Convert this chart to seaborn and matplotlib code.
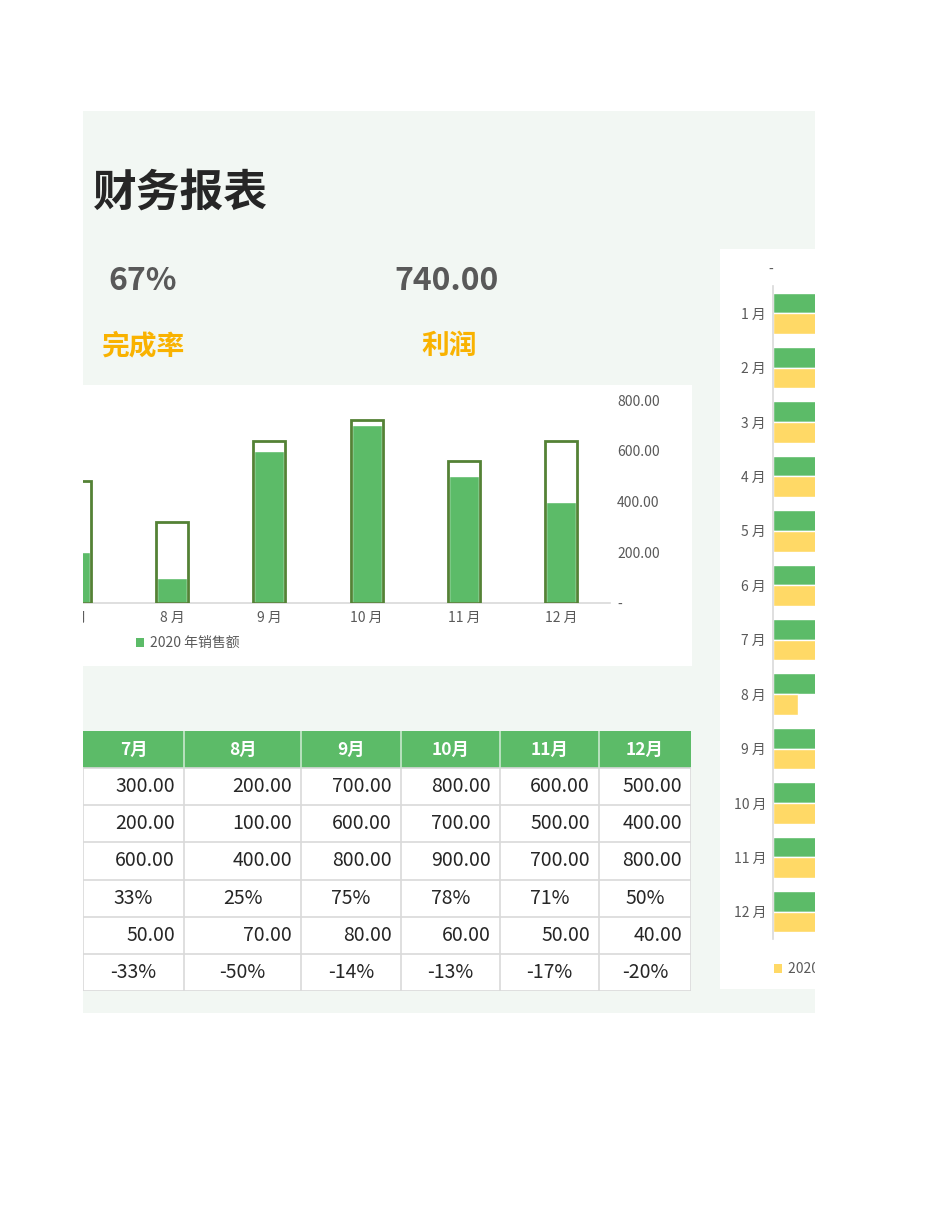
import numpy as np
import pandas as pd
import matplotlib
matplotlib.use("Agg")
import matplotlib.pyplot as plt
from matplotlib.patches import Rectangle, Patch
from matplotlib.ticker import FuncFormatter
import seaborn as sns

# ---------------- data ----------------
kpi_rate = "67%"
kpi_profit = 740.00
kpi_labels = ["完成率", "利润"]

table_months = ["7月", "8月", "9月", "10月", "11月", "12月"]
chart_months = ["7 月", "8 月", "9 月", "10 月", "11 月", "12 月"]
sales_2019 = [300, 200, 700, 800, 600, 500]
sales_2020 = [200, 100, 600, 700, 500, 400]
target = [600, 400, 800, 900, 700, 800]
completion = ["33%", "25%", "75%", "78%", "71%", "50%"]
profit = [50, 70, 80, 60, 50, 40]
growth = ["-33%", "-50%", "-14%", "-13%", "-17%", "-20%"]

hbar_months = ["1 月", "2 月", "3 月", "4 月", "5 月", "6 月",
               "7 月", "8 月", "9 月", "10 月", "11 月", "12 月"]
hbar_green = [400, 300, 500, 600, 400, 500, 300, 200, 700, 800, 600, 500]
hbar_yellow = [300, 250, 400, 500, 350, 450, 200, 100, 600, 700, 500, 400]
series_names = ["2019 年销售额", "2020 年销售额"]

# ---------------- style ----------------
sns.set_theme(style="white")
plt.rcParams["font.family"] = ["Noto Sans CJK SC", "DejaVu Sans"]
plt.rcParams["axes.unicode_minus"] = False

GREEN = "#5CBB68"
DKGREEN = "#548235"
YELLOW = "#FFD966"
ORANGE = "#F9B200"
GRAY = "#595959"
GRID = "#D9D9D9"
PANEL = "#F2F7F3"

W, H = 950, 1230
fig = plt.figure(figsize=(W / 100, H / 100), dpi=100, facecolor="white")


def fbox(x0, y0, x1, y1):
    return [x0 / W, 1 - y1 / H, (x1 - x0) / W, (y1 - y0) / H]


def frect(x0, y0, x1, y1, color, z):
    b = fbox(x0, y0, x1, y1)
    fig.add_artist(Rectangle((b[0], b[1]), b[2], b[3], transform=fig.transFigure,
                             facecolor=color, edgecolor="none", zorder=z))


# backgrounds
frect(83, 111, 815, 1013, PANEL, -10)
frect(83, 385, 692, 666, "white", -9)
frect(720, 249, 815, 989, "white", -9)

# ---------------- header texts ----------------
fig.text(93 / W, 1 - 193 / H, "财务报表", fontsize=31.5, fontweight="bold",
         color="#262626", ha="left", va="center")
fig.text(143 / W, 1 - 281 / H, kpi_rate, fontsize=23, fontweight="bold",
         color=GRAY, ha="center", va="center")
fig.text(446 / W, 1 - 281 / H, f"{kpi_profit:.2f}", fontsize=23, fontweight="bold",
         color=GRAY, ha="center", va="center")
fig.text(143 / W, 1 - 346 / H, kpi_labels[0], fontsize=20, fontweight="bold",
         color=ORANGE, ha="center", va="center")
fig.text(449 / W, 1 - 346 / H, kpi_labels[1], fontsize=20, fontweight="bold",
         color=ORANGE, ha="center", va="center")

# ---------------- column chart ----------------
df_col = pd.DataFrame({"月份": chart_months, "销售额": sales_2020, "目标": target})
ax = fig.add_axes(fbox(26, 400, 610, 603))
ax.patch.set_visible(False)
sns.barplot(data=df_col, x="月份", y="销售额", color=GREEN, saturation=1,
            width=0.31, errorbar=None, ax=ax)

ax2 = ax.twinx()
sns.barplot(data=df_col, x="月份", y="目标", color=DKGREEN, fill=False,
            linewidth=2.0, width=0.33, errorbar=None, ax=ax2)
ax2.set_ylim(0, 1000)
ax2.set_xlim(-0.5, len(chart_months) - 0.5)
ax2.set_yticks([])
ax2.set_ylabel("")
ax2.set_xlabel("")
for s in ax2.spines.values():
    s.set_visible(False)

ax.set_ylim(0, 800)
ax.set_xlim(-0.5, len(chart_months) - 0.5)
ax.yaxis.tick_right()
ax.set_yticks([0, 200, 400, 600, 800])
ax.yaxis.set_major_formatter(FuncFormatter(lambda v, p: "-" if v == 0 else f"{v:.2f}"))
ax.tick_params(axis="y", which="both", left=False, right=False, labelleft=False,
               labelright=True, length=0, pad=5, labelsize=10, labelcolor=GRAY)
ax.tick_params(axis="x", length=0, pad=6, labelsize=10, labelcolor=GRAY)
ax.set_xlabel("")
ax.set_ylabel("")
for s in ["top", "left", "right"]:
    ax.spines[s].set_visible(False)
ax.spines["bottom"].set_color(GRID)
ax.spines["bottom"].set_linewidth(1.2)

fig.legend([Patch(facecolor=GREEN, edgecolor="none")], ["2020 年销售额"],
           loc="center left", bbox_to_anchor=(136 / W, 1 - 643 / H),
           bbox_transform=fig.transFigure, frameon=False, fontsize=10,
           handlelength=0.6, handleheight=0.6, handletextpad=0.4,
           borderpad=0, borderaxespad=0, labelcolor=GRAY)

# ---------------- table ----------------
tb = fig.add_axes(fbox(83, 731, 691, 991))
tb.set_xlim(83, 691)
tb.set_ylim(991, 731)
tb.axis("off")
col_edges = [83, 184, 301, 401, 500, 599, 691]
row_edges = [731, 768, 805, 842, 880, 917, 954, 991]
rows = [
    [f"{v:.2f}" for v in sales_2019],
    [f"{v:.2f}" for v in sales_2020],
    [f"{v:.2f}" for v in target],
    completion,
    [f"{v:.2f}" for v in profit],
    growth,
]
row_align = ["right", "right", "right", "center", "right", "center"]

tb.add_patch(Rectangle((col_edges[0], row_edges[0]), col_edges[-1] - col_edges[0],
                       row_edges[1] - row_edges[0], facecolor=GREEN, edgecolor="none"))
tb.add_patch(Rectangle((col_edges[0], row_edges[1]), col_edges[-1] - col_edges[0],
                       row_edges[-1] - row_edges[1], facecolor="white", edgecolor="none"))
for j, m in enumerate(table_months):
    cx = (col_edges[j] + col_edges[j + 1]) / 2
    tb.text(cx, (row_edges[0] + row_edges[1]) / 2, m, ha="center", va="center",
            color="white", fontsize=12.5, fontweight="bold")
for i, r in enumerate(rows):
    cy = (row_edges[i + 1] + row_edges[i + 2]) / 2
    for j, val in enumerate(r):
        if row_align[i] == "right":
            x = col_edges[j + 1] - 9
        else:
            x = (col_edges[j] + col_edges[j + 1]) / 2
        tb.text(x, cy, val, ha=row_align[i], va="center", color="#262626", fontsize=14)
# grid lines
for y in row_edges[1:]:
    tb.plot([col_edges[0], col_edges[-1]], [y, y], color=GRID, lw=1.2)
for x in col_edges:
    tb.plot([x, x], [row_edges[1], row_edges[-1]], color=GRID, lw=1.2)
for x in col_edges[1:-1]:
    tb.plot([x, x], [row_edges[0], row_edges[1]], color="#C9E8CD", lw=1.2)

# ---------------- horizontal bar chart ----------------
df_h = pd.DataFrame({
    "月份": hbar_months * 2,
    "系列": [series_names[0]] * len(hbar_months) + [series_names[1]] * len(hbar_months),
    "值": hbar_green + hbar_yellow,
})
axh = fig.add_axes(fbox(773, 286, 950, 939))
axh.patch.set_visible(False)
sns.barplot(data=df_h, y="月份", x="值", hue="系列", palette=[GREEN, YELLOW],
            orient="h", width=0.76, saturation=1, errorbar=None, legend=False, ax=axh)
axh.set_xlim(0, (950 - 773) * 4)
axh.set_ylim(len(hbar_months) - 0.5, -0.5)
axh.xaxis.tick_top()
axh.set_xticks([0])
axh.set_xticklabels(["- "])
axh.tick_params(axis="x", length=0, pad=7, labelsize=10, labelcolor=GRAY)
axh.tick_params(axis="y", length=0, pad=5, labelsize=10, labelcolor=GRAY)
axh.set_xlabel("")
axh.set_ylabel("")
for s in ["top", "right", "bottom"]:
    axh.spines[s].set_visible(False)
axh.spines["left"].set_color(GRID)
axh.spines["left"].set_linewidth(1.2)

fig.legend([Patch(facecolor=YELLOW, edgecolor="none")],
           [series_names[1]],
           loc="center left", bbox_to_anchor=(774 / W, 1 - 969 / H),
           bbox_transform=fig.transFigure, frameon=False, fontsize=10,
           handlelength=0.6, handleheight=0.6, handletextpad=0.4,
           borderpad=0, borderaxespad=0, labelcolor=GRAY)

# page margins (crop of the sheet)
frect(0, 0, 83, 1230, "white", 50)
frect(815, 0, 950, 1230, "white", 50)

fig.savefig("out.png", dpi=100, facecolor="white")
